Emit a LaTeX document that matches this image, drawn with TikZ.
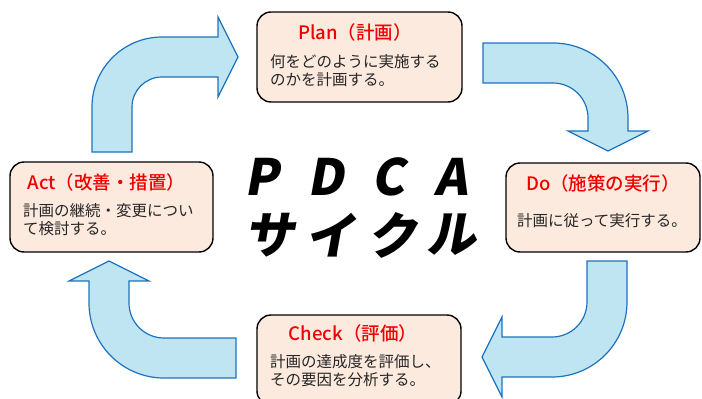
\documentclass[tikz,border=0pt]{standalone}
\usepackage{fontspec}
\setmainfont{Noto Sans CJK JP}
\newfontfamily\ttlfont[FakeSlant=0.18]{Noto Sans CJK JP Black}
\newfontfamily\phfont{Noto Sans CJK JP Medium}
\definecolor{boxfill}{RGB}{253,234,222}
\definecolor{arrfill}{RGB}{190,229,241}
\definecolor{arrline}{RGB}{30,115,190}
\definecolor{ttlred}{RGB}{240,0,0}
\tikzset{
  phase/.style={draw=black, line width=1.4pt, fill=boxfill, rounded corners=14pt, inner sep=0pt},
  phasettl/.style={text=ttlred, font=\phfont\fontsize{18.5}{20}\selectfont, inner sep=0pt},
  phasebody/.style={text=black!85, font=\fontsize{15.5}{18}\selectfont, align=left, anchor=west, inner sep=0pt},
  bigarrow/.style={draw=arrline, line width=1.2pt, fill=arrfill, line join=miter},
  bigch/.style={font=\ttlfont\fontsize{50}{50}\selectfont, inner sep=0pt}
}
\begin{document}
\begin{tikzpicture}[x=1pt,y=-1pt]
\useasboundingbox (0,0) rectangle (702,399);
\clip (0,0) rectangle (702,399);
% arrows
\draw[bigarrow] (92,152) -- (92,107) arc[start angle=180,end angle=270,radius=70] -- (218,37) -- (218,17) -- (238,57) -- (218,97) -- (218,77) -- (162,77) arc[start angle=270,end angle=180,radius=30] -- (132,152) -- cycle;
\draw[bigarrow] (483,43) -- (553,43) arc[start angle=270,end angle=360,radius=75] -- (628,131) -- (648,131) -- (608,151) -- (568,131) -- (588,131) -- (588,118) arc[start angle=0,end angle=-90,radius=35] -- (483,83) -- cycle;
\draw[bigarrow] (587,261) -- (627,261) -- (627,302) arc[start angle=0,end angle=90,radius=75] -- (502,377) -- (502,397) -- (482,357) -- (502,317) -- (502,337) -- (552,337) arc[start angle=90,end angle=0,radius=35] -- cycle;
\draw[bigarrow] (236,338) -- (236,378) -- (164,378) arc[start angle=90,end angle=180,radius=75] -- (89,281) -- (69,281) -- (109,261) -- (149,281) -- (129,281) -- (129,303) arc[start angle=180,end angle=90,radius=35] -- cycle;
% boxes
\node[phase, minimum width=205pt, minimum height=90pt] (plan) at (359.5,57) {};
\node[phase, minimum width=194pt, minimum height=89pt] (do) at (603,207.5) {};
\node[phase, minimum width=204pt, minimum height=90pt] (check) at (359,360) {};
\node[phase, minimum width=203pt, minimum height=90pt] (act) at (111.5,207) {};
% titles
\node[phasettl] (plant) at (355,32) {Plan（計画）};
\node[phasettl] (dot) at (603,183) {Do（施策の実行）};
\node[phasettl] (checkt) at (353,333) {Check（評価）};
\node[phasettl] (actt) at (106.5,182) {Act（改善・措置）};
% bodies
\node[phasebody] (planb) at (270,70.5) {何をどのように実施する\\のかを計画する。};
\node[phasebody] (dob) at (517,221) {計画に従って実行する。};
\node[phasebody] (checkb) at (270,370.5) {計画の達成度を評価し、\\その要因を分析する。};
\node[phasebody] (actb) at (23,220) {計画の継続・変更につい\\て検討する。};
% big title
\node[bigch] (t1) at (262,177) {P};
\node[bigch] (t2) at (326,177) {D};
\node[bigch] (t3) at (388,177) {C};
\node[bigch] (t4) at (451,177) {A};
\node[bigch] (t5) at (269,235) {サ};
\node[bigch] (t6) at (330,235) {イ};
\node[bigch] (t7) at (392,235) {ク};
\node[bigch] (t8) at (451,235) {ル};
\end{tikzpicture}
\end{document}
